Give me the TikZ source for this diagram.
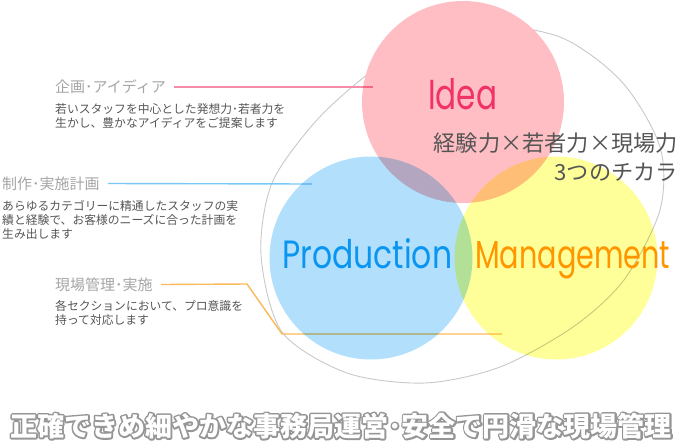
\documentclass[tikz,border=0pt]{standalone}
\usepackage{fontspec}
\usepackage{graphicx}
\newfontfamily\jpfont{Noto Sans CJK JP}
\newfontfamily\enfont{Poppins}
\definecolor{ideafill}{RGB}{255,190,195}
\definecolor{prodfill}{RGB}{178,224,252}
\definecolor{mgmtfill}{RGB}{255,255,153}
\definecolor{ideaword}{RGB}{240,50,105}
\definecolor{prodword}{RGB}{10,150,240}
\definecolor{mgmtword}{RGB}{255,150,0}
\definecolor{idealine}{RGB}{245,140,170}
\definecolor{prodline}{RGB}{120,200,245}
\definecolor{mgmtline}{RGB}{250,185,90}
\definecolor{ringgray}{RGB}{200,200,200}
\definecolor{headgray}{RGB}{165,165,165}
\definecolor{bodygray}{RGB}{85,85,85}
\newcommand{\edgestroke}{\special{pdf:code 1 Tr 3.4 w 1 j 0.59 0.59 0.59 RG}}

\begin{document}
\begin{tikzpicture}[x=1pt, y=-1pt,
    blob/.style={blend mode=multiply},
    leader/.style={line width=1.4pt},
    headtext/.style={anchor=west, inner sep=0pt, text=headgray, font=\jpfont\fontsize{15}{15}\selectfont},
    bodytext/.style={anchor=north west, inner sep=0pt, align=left, text=bodygray, font=\jpfont\fontsize{11.8}{14}\selectfont},
    midtext/.style={anchor=north east, inner sep=0pt, align=right, text=bodygray, font=\jpfont\fontsize{22.2}{28.5}\selectfont},
    slogan/.style={anchor=west, inner sep=0pt, font=\jpfont\bfseries\fontsize{27}{27}\selectfont}]
    \useasboundingbox (0,0) rectangle (680,445);
    \coordinate (ideac) at (463,102);
    \coordinate (prodc) at (371,258);
    \coordinate (mgmtc) at (556,258);
    \begin{scope}[even odd rule]
        \clip (0,0) rectangle (680,445) (ideac) circle[radius=101pt];
        \draw[ringgray, line width=0.9pt] plot[smooth cycle] coordinates {(475,24) (560,37) (622,82) (660,147) (660,210) (624,280) (573,327) (500,367) (425,383) (347,373) (282,332) (261,255) (272,183) (316,121) (368,74) (420,40)};
    \end{scope}

    \node[headtext] (ideahead) at (55,87) {企画･アイディア};
    \node[bodytext] (ideabody) at (55,103) {若いスタッフを中心とした発想力･若者力を\\生かし、豊かなアイディアをご提案します};
    \node[headtext] (prodhead) at (2,183.5) {制作･実施計画};
    \node[bodytext] (prodbody) at (2,200) {あらゆるカテゴリーに精通したスタッフの実\\績と経験で、お客様のニーズに合った計画を\\生み出します};
    \node[headtext] (mgmthead) at (55,284.5) {現場管理･実施};
    \node[bodytext] (mgmtbody) at (55,300) {各セクションにおいて、プロ意識を\\持って対応します};

    \coordinate (ideatip) at (373,87);
    \coordinate (prodtip) at (312,184);
    \coordinate (mgmtbend) at (247,284);
    \coordinate (mgmtfoot) at (282,334);
    \coordinate (mgmttip) at (502,334);
    \draw[leader, idealine] ([xshift=8pt]ideahead.east) -- (ideatip);
    \draw[leader, prodline] ([xshift=8pt]prodhead.east) -- (prodtip);
    \draw[leader, mgmtline] ([xshift=8pt]mgmthead.east) -- (mgmtbend) -- (mgmtfoot) -- (mgmttip);

    \fill[ideafill, blob] (ideac) circle[radius=101pt];
    \fill[prodfill, blob] (prodc) circle[radius=101.5pt];
    \fill[mgmtfill, blob] (mgmtc) circle[radius=101.5pt];

    \node[anchor=base west, inner sep=0pt, text=ideaword] (ideaname) at (428,109) {\resizebox{69pt}{31pt}{\enfont Idea}};
    \node[anchor=base west, inner sep=0pt, text=prodword] (prodname) at (282,268) {\resizebox{170pt}{30pt}{\enfont Production}};
    \node[anchor=base west, inner sep=0pt, text=mgmtword] (mgmtname) at (475,268) {\resizebox{195pt}{27pt}{\enfont Management}};

    \node[midtext] (power) at (678,133) {経験力×若者力×現場力\\3つのチカラ};

    \node[slogan] (mottoedge) at (10,426) {\edgestroke 正確できめ細やかな事務局運営･安全で円滑な現場管理};
    \node[slogan, text=white] (motto) at (10,426) {正確できめ細やかな事務局運営･安全で円滑な現場管理};
\end{tikzpicture}
\end{document}
